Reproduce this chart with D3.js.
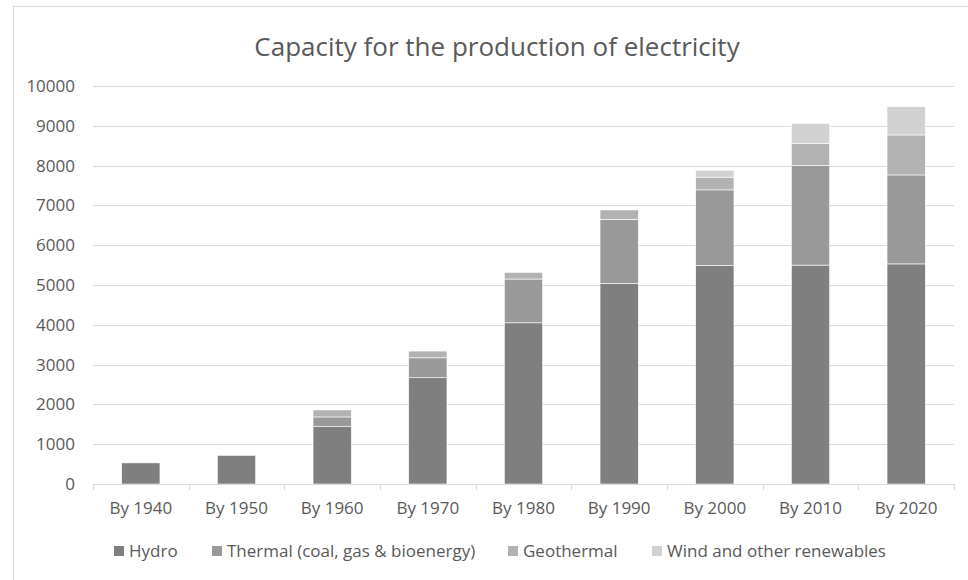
<!DOCTYPE html>
<html>
<head>
<meta charset="utf-8">
<script src="https://cdn.jsdelivr.net/npm/d3@7"></script>
<style>
  html, body { margin: 0; padding: 0; background: #fff; }
  svg { display: block; font-family: "Open Sans", "Noto Sans", sans-serif; }
</style>
</head>
<body>
<svg id="chart" width="968" height="580"></svg>
<script>
// Installed capacity by decade, stacked by source
const categories = ["By 1940", "By 1950", "By 1960", "By 1970", "By 1980", "By 1990", "By 2000", "By 2010", "By 2020"];
const seriesNames = ["Hydro", "Thermal (coal, gas & bioenergy)", "Geothermal", "Wind and other renewables"];
const hydro      = [530, 720, 1440, 2670, 4050, 5040, 5490, 5500, 5530];
const thermal    = [0,   0,   245,  500,  1100, 1610, 1900, 2500, 2235];
const geothermal = [0,   0,   175,  170,  165,  235,  320,  560,  1005];
const wind       = [0,   0,   0,    0,    0,    0,    175,  500,  710];
const yTicks = [0, 1000, 2000, 3000, 4000, 5000, 6000, 7000, 8000, 9000, 10000];
const colors = ["#7f7f7f", "#999999", "#b2b2b2", "#d1d1d1"];

const keys = ["hydro", "thermal", "geothermal", "wind"];
const rows = categories.map((c, i) => ({
  cat: c, hydro: hydro[i], thermal: thermal[i], geothermal: geothermal[i], wind: wind[i]
}));
const stacked = d3.stack().keys(keys)(rows);

const svg = d3.select("#chart");
const textColor = "#595959";

// chart frame
svg.append("rect")
  .attr("x", 13.5).attr("y", 6.5)
  .attr("width", 1000).attr("height", 600)
  .attr("fill", "#fff").attr("stroke", "#d9d9d9").attr("stroke-width", 1);

const margin = { left: 93, right: 954, top: 86, bottom: 484 };

const x = d3.scaleBand().domain(categories)
  .range([margin.left, margin.right])
  .paddingInner(0.6).paddingOuter(0.3);
const y = d3.scaleLinear().domain([0, 10000]).range([margin.bottom, margin.top]);

// title
svg.append("text")
  .attr("x", 497).attr("y", 56)
  .attr("text-anchor", "middle")
  .attr("font-size", 26)
  .attr("fill", textColor)
  .text("Capacity for the production of electricity");

// horizontal gridlines
svg.append("g")
  .selectAll("line")
  .data(yTicks.filter(t => t > 0))
  .join("line")
  .attr("x1", margin.left).attr("x2", margin.right)
  .attr("y1", d => Math.round(y(d)) + 0.5).attr("y2", d => Math.round(y(d)) + 0.5)
  .attr("stroke", "#d9d9d9").attr("stroke-width", 1);

// y axis labels
const yAxis = d3.axisLeft(y).tickValues(yTicks).tickSize(0).tickPadding(18)
  .tickFormat(d3.format("d"));
const gy = svg.append("g").attr("transform", `translate(${margin.left},0)`).call(yAxis);
gy.select(".domain").remove();
gy.selectAll("text").attr("fill", textColor).attr("font-size", 17)
  .attr("font-family", "'Open Sans', sans-serif");

// stacked bars
svg.append("g")
  .selectAll("g")
  .data(stacked)
  .join("g")
  .attr("fill", (d, i) => colors[i])
  .selectAll("rect")
  .data(d => d.filter(s => s[1] - s[0] > 0))
  .join("rect")
  .attr("x", d => x(d.data.cat))
  .attr("width", x.bandwidth())
  .attr("y", d => y(d[1]))
  .attr("height", d => y(d[0]) - y(d[1]))
  .attr("stroke", "#ffffff").attr("stroke-width", 0.6);

// x axis with category boundary ticks
const boundaries = d3.range(categories.length + 1).map(i => margin.left + i * (margin.right - margin.left) / categories.length);
const gx = svg.append("g");
gx.append("line")
  .attr("x1", margin.left).attr("x2", margin.right)
  .attr("y1", margin.bottom + 0.5).attr("y2", margin.bottom + 0.5)
  .attr("stroke", "#d9d9d9");
gx.selectAll("line.tick")
  .data(boundaries)
  .join("line").attr("class", "tick")
  .attr("x1", d => Math.round(d) + 0.5).attr("x2", d => Math.round(d) + 0.5)
  .attr("y1", margin.bottom).attr("y2", margin.bottom + 6)
  .attr("stroke", "#d9d9d9");
gx.selectAll("text")
  .data(categories)
  .join("text")
  .attr("x", d => x(d) + x.bandwidth() / 2)
  .attr("y", 514)
  .attr("text-anchor", "middle")
  .attr("font-size", 17)
  .attr("fill", textColor)
  .text(d => d);

// legend
const legendX = [114, 212, 508, 652];
const legend = svg.append("g").selectAll("g")
  .data(seriesNames)
  .join("g")
  .attr("transform", (d, i) => `translate(${legendX[i]},546)`);
legend.append("rect")
  .attr("width", 10).attr("height", 10)
  .attr("fill", (d, i) => colors[i]);
legend.append("text")
  .attr("x", 15).attr("y", 10.5)
  .attr("font-size", 17)
  .attr("fill", textColor)
  .text(d => d);
</script>
</body>
</html>
